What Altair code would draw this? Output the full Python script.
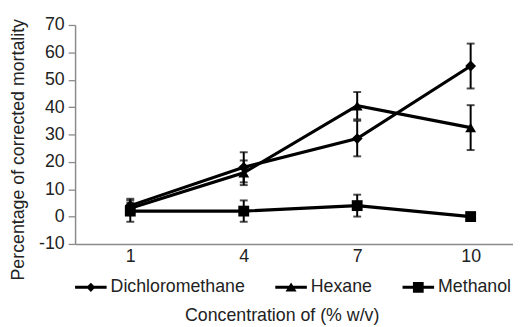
import altair as alt
import pandas as pd

concentration = [1, 4, 7, 10]
series_names = ["Dichloromethane", "Hexane", "Methanol"]
dcm = [4, 18, 28.5, 55]
dcm_err = [2.5, 5.5, 6.5, 8.2]
hexane = [3, 16, 40.5, 32.5]
hexane_err = [2, 4.5, 5, 8.2]
methanol = [2, 2, 4, 0]
methanol_err = [3.9, 3.9, 4, 0]
y_ticks = [-10, 0, 10, 20, 30, 40, 50, 60, 70]

rows = []
for name, vals, errs in zip(series_names, [dcm, hexane, methanol],
                            [dcm_err, hexane_err, methanol_err]):
    for c, v, e in zip(concentration, vals, errs):
        rows.append({"conc": c, "series": name, "value": v, "lo": v - e, "hi": v + e})
df = pd.DataFrame(rows)

TXT = "#222222"
AX = "#8a8a8a"

x_scale = alt.Scale(domain=[-0.46, 11.12], nice=False, zero=False)
x_axis = alt.Axis(
    values=concentration, title="Concentration of (% w/v)", grid=False,
    ticks=False, labelPadding=4, domainColor=AX, domainWidth=1.5,
    labelOverlap=False,
    titleX=209.5, titleY=78, titleBaseline="alphabetic", titleAlign="center",
)
y_scale = alt.Scale(domain=[-10, 70], nice=False, zero=False)
y_axis = alt.Axis(
    values=y_ticks, title="Percentage of corrected mortality", grid=False,
    tickSize=7, tickColor=AX, tickWidth=1.3, domainColor=AX, domainWidth=1.5,
    labelPadding=4, labelOverlap=False, labelExpr="'' + datum.value",
    titleX=-57, titleY=126, titleAngle=-90,
    titleAlign="center", titleBaseline="middle",
)


def X():
    return alt.X("conc:Q", scale=x_scale, axis=x_axis)


def Y(field):
    return alt.Y(field, scale=y_scale, axis=y_axis)


base = alt.Chart(df)

lines = base.mark_line(color="black", strokeWidth=3.2).encode(
    x=X(), y=Y("value:Q"), detail="series:N"
)
rules = base.mark_rule(color="black", strokeWidth=2).encode(
    x=X(), y=Y("lo:Q"), y2="hi:Q"
)
caps_lo = base.mark_tick(orient="horizontal", size=8, thickness=2, color="black").encode(
    x=X(), y=Y("lo:Q")
)
caps_hi = base.mark_tick(orient="horizontal", size=8, thickness=2, color="black").encode(
    x=X(), y=Y("hi:Q")
)

points = base.mark_point(filled=True, opacity=1, color="black").encode(
    x=X(),
    y=Y("value:Q"),
    shape=alt.Shape(
        "series:N",
        scale=alt.Scale(domain=series_names, range=["diamond", "triangle-up", "square"]),
        legend=None,
    ),
    size=alt.Size(
        "series:N",
        scale=alt.Scale(domain=series_names, range=[121, 121, 144]),
        legend=None,
    ),
)

legend_paths = [
    "M-1,-0.095H1V0.095H-1ZM0,-0.29L0.29,0L0,0.29L-0.29,0Z",
    "M-1,-0.095H1V0.095H-1ZM0,-0.31L0.35,0.26L-0.35,0.26Z",
    "M-1,-0.095H1V0.095H-1ZM-0.34,-0.34H0.34V0.34H-0.34Z",
]

ghost = base.mark_point(filled=True, opacity=0, color="black").encode(
    x=X(),
    y=Y("value:Q"),
    shape=alt.Shape(
        "series:N",
        scale=alt.Scale(domain=series_names, range=legend_paths),
        legend=alt.Legend(
            title=None, orient="none", legendX=0, legendY=250,
            direction="horizontal", labelFontSize=18, labelColor=TXT,
            columnPadding=30, symbolSize=1024, labelOffset=4, padding=0,
            symbolOpacity=1, symbolFillColor="black", symbolStrokeWidth=0,
        ),
    ),
)

chart = (
    alt.layer(lines, rules, caps_lo, caps_hi, points, ghost)
    .resolve_scale(shape="independent")
    .properties(
        width=444, height=222,
        autosize=alt.AutoSizeParams(type="none"),
        padding={"left": 68, "top": 15, "right": 0, "bottom": 82},
    )
    .configure(font="Liberation Sans")
    .configure_view(stroke=None)
    .configure_axis(
        labelFontSize=18, titleFontSize=18, labelColor=TXT, titleColor=TXT,
        titleFontWeight="normal",
    )
)

chart.save("out.html", embed_options={"renderer": "svg", "actions": False})
